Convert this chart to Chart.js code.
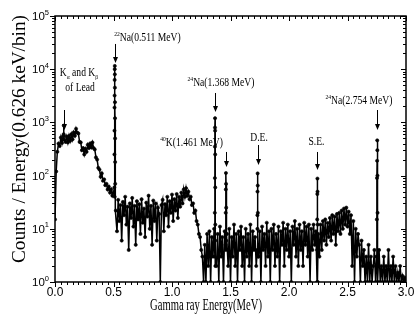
<!DOCTYPE html>
<html lang="en">
<head>
<meta charset="UTF-8">
<title>Gamma ray spectrum</title>
<script src="https://cdn.jsdelivr.net/npm/chart.js"></script>
<style>
  html, body { margin: 0; padding: 0; background: #fff; }
</style>
</head>
<body>
<canvas id="myChart" width="414" height="325"></canvas>
<script>
// continuum, one reading every 0.01 MeV from 0.00 to 3.00 MeV
const binStart = 0;
const binStep = 0.01;
const counts = [
  15, 120, 280, 400, 360, 520, 410, 560, 470, 430,     // 0.00
  540, 420, 560, 450, 600, 480, 650, 560, 760, 640,    // 0.10
  620, 430, 420, 300, 330, 250, 320, 280, 380, 330,    // 0.20
  400, 340, 420, 330, 310, 220, 200, 140, 130, 95,     // 0.30
  110, 80, 85, 66, 70, 55, 62, 48, 55, 42,             // 0.40
  48, 40, 22, 9, 35, 14, 28, 6, 32, 18,                // 0.50
  40, 12, 26, 4, 30, 16, 38, 11, 27, 5,                // 0.60
  33, 15, 29, 8, 36, 13, 24, 7, 31, 17,                // 0.70
  42, 10, 27, 5, 34, 14, 30, 6, 25, 19,                // 0.80
  1, 28, 35, 9, 29, 18, 40, 11, 33, 20,                // 0.90
  44, 14, 36, 22, 45, 16, 40, 26, 48, 30,              // 1.00
  55, 40, 58, 42, 50, 36, 40, 28, 30, 20,              // 1.10
  22, 14, 12, 8, 7, 4, 3, 1, 5, 1,                     // 1.20
  8, 2, 9, 1, 7, 3, 10, 6, 2, 8,                       // 1.30
  1, 11, 3, 7, 1, 9, 4, 8, 2, 10,                      // 1.40
  1, 7, 3, 12, 2, 8, 1, 9, 4, 11,                      // 1.50
  2, 7, 1, 10, 3, 8, 2, 12, 1, 9,                      // 1.60
  4, 7, 2, 10, 3, 9, 1, 11, 4, 8,                      // 1.70
  2, 13, 3, 9, 1, 10, 4, 12, 2, 8,                     // 1.80
  3, 11, 1, 9, 5, 13, 2, 10, 4, 12,                    // 1.90
  3, 9, 1, 11, 5, 14, 3, 10, 2, 12,                    // 2.00
  4, 9, 2, 13, 5, 11, 3, 12, 1, 10,                    // 2.10
  4, 12, 5, 9, 1, 8, 3, 12, 4, 14,                     // 2.20
  6, 15, 5, 13, 7, 16, 6, 18, 8, 17,                   // 2.30
  5, 19, 9, 20, 8, 22, 10, 24, 12, 25,                 // 2.40
  11, 21, 8, 18, 2, 14, 1, 10, 3, 8,                   // 2.50
  5, 1, 6, 2, 4, 1, 3, 1, 5, 1,                        // 2.60
  3, 1, 2, 4, 1, 3, 1, 4, 1, 2,                        // 2.70
  1, 3, 1, 2, 1, 4, 1, 2, 1, 3,                        // 2.80
  1, 2, 1, 1.5, 1, 2, 1, 1.3, 1, 1.2,                  // 2.90
  1                                                    // 3.00
];

// narrow lines on top of the continuum
const peakEnergy = [
  0.074, 0.075, 0.076,
  0.5075, 0.508, 0.5085, 0.509, 0.5095, 0.510, 0.5105, 0.511, 0.5115, 0.512, 0.5125, 0.513, 0.5135, 0.514, 0.5145,
  1.3655, 1.366, 1.3665, 1.367, 1.3675, 1.368, 1.3685, 1.369, 1.3695, 1.370, 1.3705,
  1.458, 1.459, 1.460, 1.461, 1.462, 1.463, 1.464,
  1.729, 1.730, 1.731, 1.732, 1.733, 1.734, 1.735,
  2.240, 2.241, 2.242, 2.243, 2.244, 2.245, 2.246,
  2.750, 2.751, 2.752, 2.753, 2.754, 2.755, 2.756, 2.757, 2.758
];
const peakCounts = [
  600, 870, 560,
  60, 250, 700, 1900, 3200, 6300, 10000, 11500, 8000, 4500, 2400, 1200, 500, 180, 70,
  3, 20, 90, 350, 800, 1200, 700, 250, 60, 12, 2,
  5, 20, 55, 112, 70, 25, 6,
  4, 18, 50, 110, 65, 20, 3,
  4, 15, 45, 88, 50, 12, 1,
  3, 15, 90, 190, 460, 300, 100, 20, 2
];

const xTicks = [0, 0.5, 1, 1.5, 2, 2.5, 3];
const xTickLabels = ['0.0', '0.5', '1.0', '1.5', '2.0', '2.5', '3.0'];
const yDecades = [0, 1, 2, 3, 4, 5];

const xTitle = 'Gamma ray Energy(MeV)';
const yTitle = 'Counts / Energy(0.626 keV/bin)';

// label text pieces: [text, 'sup' | 'sub' | '']
const labelText = [
  [['K', ''], ['\u03b1', 'sub'], [' and K', ''], ['\u03b2', 'sub']],
  [['of Lead', '']],
  [['22', 'sup'], ['Na(0.511 MeV)', '']],
  [['24', 'sup'], ['Na(1.368 MeV)', '']],
  [['40', 'sup'], ['K(1.461 MeV)', '']],
  [['D.E.', '']],
  [['S.E.', '']],
  [['24', 'sup'], ['Na(2.754 MeV)', '']]
];
const labelAt = [[0.205, 7450], [0.214, 3890], [0.79, 33900], [1.419, 4730],
                 [1.167, 360], [1.744, 447], [2.235, 376], [2.598, 2220]];
// arrows: energy, tail counts, tip counts
const arrowE = [0.077, 0.511, 1.368, 1.461, 1.735, 2.243, 2.754];
const arrowFrom = [1710, 29800, 3570, 278, 376, 278, 1710];
const arrowTo = [720, 13100, 1570, 145, 158, 127, 720];

const points = counts.map((c, i) => ({ x: +(binStart + i * binStep).toFixed(2), y: c }))
  .concat(peakEnergy.map((e, i) => ({ x: e, y: peakCounts[i] })))
  .sort((a, b) => a.x - b.x);

function rich(ctx, parts, cx, baseY, size, squeeze) {
  const fontFor = k => (k ? Math.round(size * 0.62) : size) + 'px "Liberation Serif"';
  let w = 0;
  parts.forEach(p => { ctx.font = fontFor(p[1]); w += ctx.measureText(p[0]).width; });
  ctx.save();
  ctx.translate(cx, baseY);
  ctx.scale(squeeze, 1);
  ctx.textAlign = 'left';
  ctx.textBaseline = 'alphabetic';
  let xx = -w / 2;
  parts.forEach(p => {
    ctx.font = fontFor(p[1]);
    const dy = p[1] === 'sup' ? -size * 0.42 : p[1] === 'sub' ? size * 0.28 : 0;
    ctx.fillText(p[0], xx, dy);
    xx += ctx.measureText(p[0]).width;
  });
  ctx.restore();
}

function seg(ctx, x1, y1, x2, y2) {
  ctx.beginPath(); ctx.moveTo(x1, y1); ctx.lineTo(x2, y2); ctx.stroke();
}

const decor = {
  id: 'decor',
  afterDraw(chart) {
    const { ctx, chartArea: a, scales: { x, y } } = chart;
    ctx.save();
    ctx.strokeStyle = '#000';
    ctx.fillStyle = '#000';

    // ticks: bottom/left point out, top/right point in
    ctx.lineWidth = 1;
    for (let i = 0; i <= 60; i++) {
      const px = Math.round(x.getPixelForValue(i * 0.05)) + 0.5;
      const len = i % 10 === 0 ? 5 : 3;
      seg(ctx, px, a.bottom, px, a.bottom + len);
      seg(ctx, px, a.top, px, a.top + len);
    }
    yDecades.forEach(d => {
      for (let m = 1; m <= 9; m++) {
        if (d === 5 && m > 1) break;
        const py = Math.round(y.getPixelForValue(m * Math.pow(10, d))) + 0.5;
        const len = m === 1 ? 5 : 3;
        seg(ctx, a.left - len, py, a.left, py);
        seg(ctx, a.right - len, py, a.right, py);
      }
    });

    // frame
    ctx.lineWidth = 1.5;
    ctx.strokeRect(a.left, a.top, a.right - a.left, a.bottom - a.top);

    // x tick labels
    ctx.font = '12px "Liberation Sans"';
    ctx.textAlign = 'center';
    ctx.textBaseline = 'alphabetic';
    xTicks.forEach((v, i) => ctx.fillText(xTickLabels[i], x.getPixelForValue(v), a.bottom + 14));

    // y tick labels 10^n
    yDecades.forEach(d => {
      const py = y.getPixelForValue(Math.pow(10, d));
      const right = a.left - 6;
      ctx.font = '7.5px "Liberation Sans"';
      ctx.textAlign = 'right';
      const sw = ctx.measureText(String(d)).width;
      ctx.fillText(String(d), right, py - 1.5);
      ctx.font = '11.5px "Liberation Sans"';
      ctx.fillText('10', right - sw, py + 4);
    });

    // axis titles
    ctx.font = '17px "Liberation Serif"';
    ctx.textAlign = 'center';
    let w = ctx.measureText(xTitle).width;
    ctx.save();
    ctx.translate(206, a.bottom + 28);
    ctx.scale(112 / w, 1);
    ctx.fillText(xTitle, 0, 0);
    ctx.restore();

    ctx.font = '18px "Liberation Serif"';
    w = ctx.measureText(yTitle).width;
    ctx.save();
    ctx.translate(25, 139);
    ctx.rotate(-Math.PI / 2);
    ctx.scale(248 / w, 1);
    ctx.fillText(yTitle, 0, 0);
    ctx.restore();

    // peak labels
    labelText.forEach((parts, i) => {
      rich(ctx, parts, x.getPixelForValue(labelAt[i][0]), y.getPixelForValue(labelAt[i][1]), 12, 0.8);
    });

    // arrows
    ctx.lineWidth = 1;
    arrowE.forEach((e, i) => {
      const px = Math.round(x.getPixelForValue(e)) + 0.5;
      const y1 = y.getPixelForValue(arrowFrom[i]);
      const y2 = y.getPixelForValue(arrowTo[i]);
      seg(ctx, px, y1, px, y2 - 4);
      ctx.beginPath();
      ctx.moveTo(px - 2.5, y2 - 6);
      ctx.lineTo(px + 2.5, y2 - 6);
      ctx.lineTo(px, y2);
      ctx.closePath();
      ctx.fill();
    });
    ctx.restore();
  }
};

const ctx = document.getElementById('myChart').getContext('2d');
new Chart(ctx, {
  type: 'scatter',
  data: {
    datasets: [{
      data: points,
      showLine: true,
      borderColor: '#000',
      borderWidth: 1.5,
      pointRadius: 1.6,
      pointBackgroundColor: '#000',
      pointBorderColor: '#000',
      pointBorderWidth: 0.6
    }]
  },
  options: {
    responsive: false,
    animation: false,
    layout: { padding: { left: 55, right: 8, top: 16, bottom: 43 } },
    scales: {
      x: { type: 'linear', min: 0, max: 3, display: false },
      y: { type: 'logarithmic', min: 1, max: 100000, display: false }
    },
    plugins: { legend: { display: false }, tooltip: { enabled: false } }
  },
  plugins: [decor]
});
</script>
</body>
</html>
